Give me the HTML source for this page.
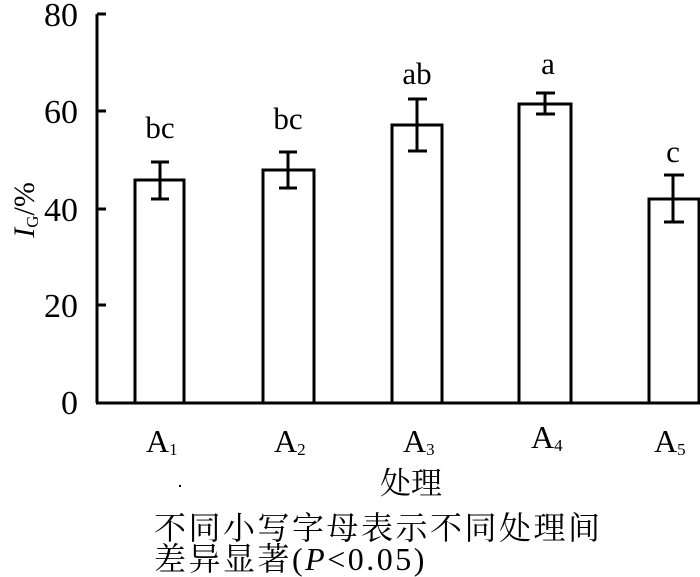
<!DOCTYPE html>
<html><head><meta charset="utf-8"><style>
html,body{margin:0;padding:0;background:#fff;}
svg{display:block;}
text{font-family:"Liberation Serif","Noto Serif CJK SC",serif;fill:#000;}
.cjk{font-family:"Liberation Serif","Noto Serif CJK SC",serif;}
</style></head><body>
<svg width="700" height="577" viewBox="0 0 700 577" xmlns="http://www.w3.org/2000/svg">
<g stroke="#000" stroke-width="3" fill="none">
<line x1="97" y1="14" x2="97" y2="403"/>
<line x1="96" y1="403" x2="700" y2="403"/>
<line x1="97" y1="14" x2="106" y2="14"/>
<line x1="97" y1="111" x2="106" y2="111"/>
<line x1="97" y1="209" x2="106" y2="209"/>
<line x1="97" y1="305" x2="106" y2="305"/>
<rect x="135" y="180" width="49" height="223" fill="#fff"/>
<rect x="263" y="170" width="51" height="233" fill="#fff"/>
<rect x="392" y="125" width="50" height="278" fill="#fff"/>
<rect x="519" y="104" width="52" height="299" fill="#fff"/>
<rect x="649" y="199" width="50" height="204" fill="#fff"/>
<path d="M160 162V199M151 162H169M151 199H169"/>
<path d="M288 152V188M279 152H297M279 188H297"/>
<path d="M417 99V151M408 99H427M408 151H427"/>
<path d="M545 93V114M536 93H555M536 114H555"/>
<path d="M673 175V222M664 175H684M664 222H684"/>
</g>
<g font-size="34" text-anchor="end">
<text x="78" y="26">80</text>
<text x="78" y="123">60</text>
<text x="78" y="221">40</text>
<text x="78" y="317">20</text>
<text x="78" y="414">0</text>
</g>
<g font-size="31" text-anchor="middle">
<text x="160" y="138">bc</text>
<text x="288" y="129">bc</text>
<text x="417" y="84">ab</text>
<text x="548" y="74">a</text>
<text x="673" y="162">c</text>
</g>
<text transform="translate(34,210) rotate(-90)" font-size="30" text-anchor="middle"><tspan font-style="italic">I</tspan><tspan font-size="17" dy="4">G</tspan><tspan dy="-4">/%</tspan></text>
<g font-size="32">
<text x="146" y="452">A<tspan font-size="17" dy="3">1</tspan></text>
<text x="274" y="452">A<tspan font-size="17" dy="3">2</tspan></text>
<text x="403" y="452">A<tspan font-size="17" dy="3">3</tspan></text>
<text x="531" y="448">A<tspan font-size="17" dy="3">4</tspan></text>
<text x="654" y="452">A<tspan font-size="17" dy="3">5</tspan></text>
</g>
<rect x="179" y="485" width="2" height="2" fill="#000"/>
<text class="cjk" x="380" y="494" font-size="31">处理</text>
<text class="cjk" x="154" y="539" font-size="32" letter-spacing="2.5">不同小写字母表示不同处理间</text>
<text class="cjk" x="154" y="570" font-size="32" letter-spacing="2.5">差异显著(<tspan font-style="italic">P</tspan>&lt;0.05)</text>
</svg>
</body></html>
